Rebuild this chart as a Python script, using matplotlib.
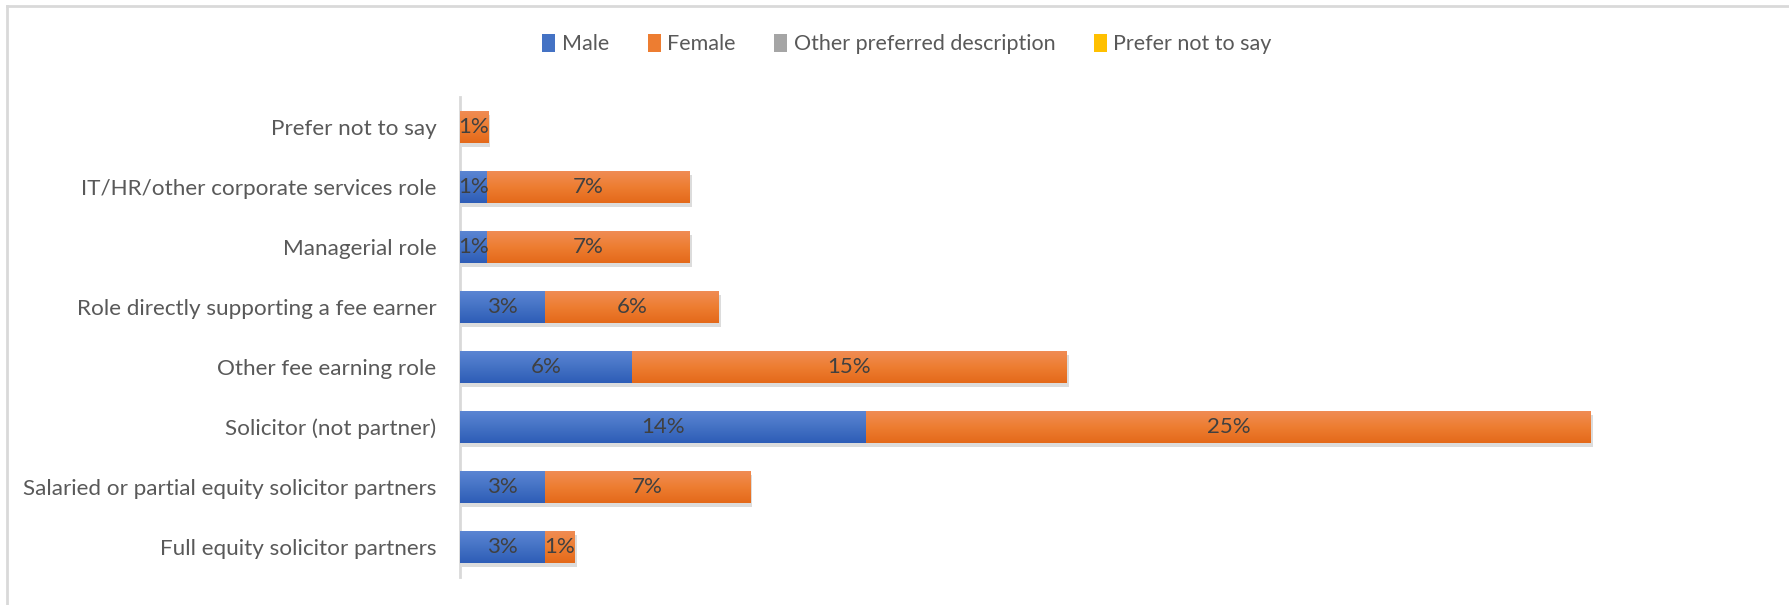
import numpy as np
import matplotlib.pyplot as plt
from matplotlib import patheffects as pe
from matplotlib.lines import Line2D
from matplotlib.patches import Patch
from matplotlib.colors import LinearSegmentedColormap

plt.rcParams['font.family'] = ['Lato', 'DejaVu Sans']

categories = [
    "Full equity solicitor partners",
    "Salaried or partial equity solicitor partners",
    "Solicitor (not partner)",
    "Other fee earning role",
    "Role directly supporting a fee earner",
    "Managerial role",
    "IT/HR/other corporate services role",
    "Prefer not to say",
]
male = [2.93, 2.93, 14.0, 5.93, 2.93, 0.93, 0.93, 0.0]
female = [1.03, 7.07, 25.0, 15.0, 6.0, 7.0, 7.0, 0.97]
other = [0, 0, 0, 0, 0, 0, 0, 0]
not_say = [0, 0, 0, 0, 0, 0, 0, 0]
series_names = ["Male", "Female", "Other preferred description", "Prefer not to say"]

base_colors = ["#4472C4", "#ED7D31", "#A5A5A5", "#FFC000"]
grad = {
    "#4472C4": ("#2E5DB7", "#5B85D3"),
    "#ED7D31": ("#E4691A", "#F08C54"),
    "#A5A5A5": ("#959595", "#B5B5B5"),
    "#FFC000": ("#F0B400", "#FFCB30"),
}

fig = plt.figure(figsize=(17.89, 6.05), dpi=100)
ax = fig.add_axes([460 / 1789, 1 - 577 / 605, 1305 / 1789, 480 / 605])

y = np.arange(len(categories))
left = np.zeros(len(categories))
shadow = [pe.SimplePatchShadow(offset=(1.5, -3), shadow_rgbFace="#8c8c8c", alpha=0.3), pe.Normal()]

for vals, col in zip([male, female, other, not_say], base_colors):
    vals = np.array(vals, dtype=float)
    bars = ax.barh(y, vals, left=left, height=0.53, color=col, zorder=2)
    cmap = LinearSegmentedColormap.from_list("g", [grad[col][0], col, grad[col][1]])
    for b, v in zip(bars, vals):
        if v <= 0:
            b.set_visible(False)
            continue
        b.set_path_effects(shadow)
        x0, y0 = b.get_x(), b.get_y()
        w, h = b.get_width(), b.get_height()
        im = ax.imshow(np.linspace(0, 1, 64).reshape(-1, 1), cmap=cmap, aspect="auto",
                       extent=[x0, x0 + w, y0, y0 + h], origin="lower", zorder=3,
                       interpolation="bilinear")
        im.set_clip_path(b)
        ax.text(x0 + w / 2, y0 + h / 2, f"{round(v):.0f}%", ha="center", va="center",
                fontsize=16, color="#404040", zorder=4)
    left = left + vals

ax.set_xlim(0, 45)
ax.set_ylim(-0.5, len(categories) - 0.5)
ax.set_yticks(y)
ax.set_yticklabels(categories, fontsize=16.2, color="#595959")
ax.tick_params(axis="y", length=0, pad=17)
ax.set_xticks([])
for s in ["top", "right", "bottom"]:
    ax.spines[s].set_visible(False)
ax.spines["left"].set_color("#D9D9D9")
ax.spines["left"].set_linewidth(2)

handles = [Patch(facecolor=c, edgecolor="none") for c in base_colors]
fig.legend(handles, series_names, loc="center", bbox_to_anchor=(0.507, 1 - 44 / 605),
           ncol=4, frameon=False, fontsize=15.5, labelcolor="#595959",
           handlelength=0.6, handleheight=0.9, handletextpad=0.3, columnspacing=1.8)

# chart area border (top and left edges visible)
fig.add_artist(Line2D([7 / 1789, 1], [1 - 6 / 605, 1 - 6 / 605], color="#D9D9D9", lw=2))
fig.add_artist(Line2D([7 / 1789, 7 / 1789], [0, 1 - 6 / 605], color="#D9D9D9", lw=2))

fig.savefig("out.png", dpi=100)
